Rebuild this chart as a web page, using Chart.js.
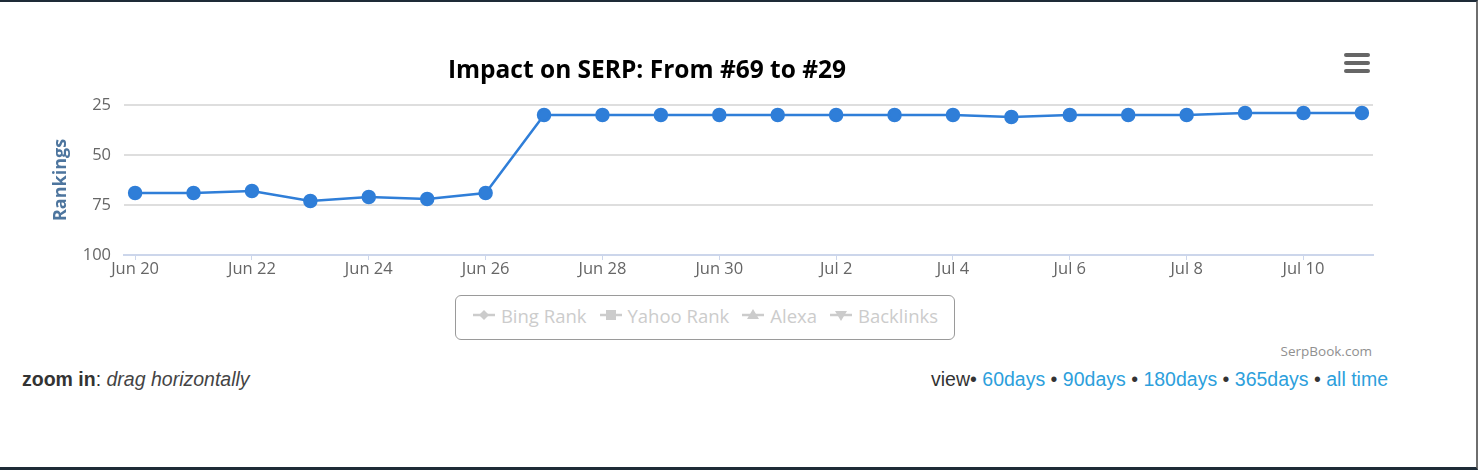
<!DOCTYPE html>
<html>
<head>
<meta charset="utf-8">
<script src="https://cdn.jsdelivr.net/npm/chart.js@4"></script>
<style>
  html, body { margin: 0; padding: 0; background: #fff; }
  #page { position: relative; width: 1478px; height: 470px; box-sizing: border-box;
          border-top: 2px solid #1e2b37; border-right: 2px solid #6e6e6e; border-bottom: 3px solid #1e2b37;
          overflow: hidden; font-family: "Liberation Sans", Arial, sans-serif; }
  #wrap { position: absolute; left: 0; top: -2px; width: 1478px; height: 290px; }
  #title { position: absolute; left: 347px; top: 50px; width: 600px; text-align: center;
           font: bold 24.5px "Open Sans", sans-serif; color: #000; }
  .bar { position: absolute; left: 1344px; width: 26px; height: 4px; border-radius: 2px; background: #666; }
  #legend { position: absolute; left: 455px; top: 293px; width: 500px; height: 45px; box-sizing: border-box;
            border: 1.5px solid #9a9a9a; border-radius: 6px; display: flex; align-items: center;
            justify-content: center; font: 18.5px "Open Sans", sans-serif; color: #cccccc; gap: 12px;
            padding-bottom: 5px; }
  #legend span.item { display: flex; align-items: center; }
  #credit { position: absolute; right: 104px; top: 340px; font: 13.5px "Open Sans", sans-serif; color: #909090; }
  #zoom { position: absolute; left: 22px; top: 366px; font-size: 19.5px; color: #333; }
  #zoom i { color: #444; }
  #view { position: absolute; right: 88px; top: 366px; font-size: 19.5px; color: #333; }
  #view a { color: #2d9fdc; text-decoration: none; }
</style>
</head>
<body>
<div id="page">
  <div id="wrap"><canvas id="chart"></canvas></div>
  <div id="title"></div>
  <div class="bar" style="top:51px"></div>
  <div class="bar" style="top:59px"></div>
  <div class="bar" style="top:67px"></div>
  <div id="legend"></div>
  <div id="credit">SerpBook.com</div>
  <div id="zoom"><b>zoom in</b>: <i>drag horizontally</i></div>
  <div id="view"></div>
</div>
<script>
const titleText = 'Impact on SERP: From #69 to #29';
const days = ['Jun 20','Jun 21','Jun 22','Jun 23','Jun 24','Jun 25','Jun 26','Jun 27','Jun 28','Jun 29','Jun 30',
              'Jul 1','Jul 2','Jul 3','Jul 4','Jul 5','Jul 6','Jul 7','Jul 8','Jul 9','Jul 10','Jul 11'];
const ranks = [69, 69, 68, 73, 71, 72, 69, 30, 30, 30, 30, 30, 30, 30, 30, 31, 30, 30, 30, 29, 29, 29];
const rankTicks = [25, 50, 75, 100];
const hiddenSeries = ['Bing Rank', 'Yahoo Rank', 'Alexa', 'Backlinks'];
const hiddenMarkers = ['diamond', 'square', 'triangle', 'triangleDown'];
const viewLinks = ['60days', '90days', '180days', '365days', 'all time'];

document.getElementById('title').textContent = titleText;

// legend (all extra series are switched off, so drawn grey)
const legend = document.getElementById('legend');
hiddenSeries.forEach((name, i) => {
  const item = document.createElement('span');
  item.className = 'item';
  const c = document.createElement('canvas');
  c.width = 24; c.height = 16;
  const g = c.getContext('2d');
  g.strokeStyle = '#cccccc'; g.fillStyle = '#cccccc'; g.lineWidth = 2.5;
  g.beginPath(); g.moveTo(1, 8); g.lineTo(23, 8); g.stroke();
  g.beginPath();
  const m = hiddenMarkers[i];
  if (m === 'diamond') { g.moveTo(12, 3); g.lineTo(17, 8); g.lineTo(12, 13); g.lineTo(7, 8); }
  else if (m === 'square') { g.rect(7, 3, 10, 10); }
  else if (m === 'triangle') { g.moveTo(12, 2); g.lineTo(18, 12); g.lineTo(6, 12); }
  else { g.moveTo(6, 4); g.lineTo(18, 4); g.lineTo(12, 14); }
  g.fill();
  item.appendChild(c);
  const t = document.createElement('span');
  t.textContent = name;
  t.style.marginLeft = '5px';
  item.appendChild(t);
  legend.appendChild(item);
});

const view = document.getElementById('view');
view.appendChild(document.createTextNode('view\u2022 '));
viewLinks.forEach((v, i) => {
  const a = document.createElement('a');
  a.textContent = v; a.href = '#';
  view.appendChild(a);
  if (i < viewLinks.length - 1) view.appendChild(document.createTextNode(' \u2022 '));
});

const ctx = document.getElementById('chart');
new Chart(ctx, {
  type: 'line',
  data: {
    datasets: [{
      label: 'Rank',
      data: ranks.map((r, i) => ({ x: i, y: r })),
      borderColor: '#2f7ed8',
      backgroundColor: '#2f7ed8',
      borderWidth: 2.5,
      pointRadius: 6,
      pointHoverRadius: 7,
      tension: 0
    }]
  },
  options: {
    responsive: true,
    maintainAspectRatio: false,
    animation: false,
    layout: { padding: { top: 105, right: 105, left: 0, bottom: 0 } },
    plugins: { legend: { display: false }, title: { display: false }, tooltip: { enabled: false } },
    scales: {
      x: {
        type: 'linear',
        min: -0.19,
        max: 21.19,
        afterBuildTicks: s => { s.ticks = days.map((d, i) => ({ value: i })).filter(t => t.value % 2 === 0); },
        afterFit: s => { s.height = 35; },
        ticks: {
          callback: v => days[v],
          color: '#666666',
          font: { family: 'Open Sans', size: 16.5 },
          padding: -1,
          maxRotation: 0,
          autoSkip: false
        },
        grid: { drawOnChartArea: false, drawTicks: true, tickLength: 5, color: '#ccd6eb', lineWidth: 1 },
        border: { color: '#ccd6eb', width: 2 }
      },
      y: {
        reverse: true,
        min: 25,
        max: 100,
        afterBuildTicks: s => { s.ticks = rankTicks.map(v => ({ value: v })); },
        afterFit: s => { s.width = 124; },
        ticks: {
          color: '#666666',
          font: { family: 'Open Sans', size: 16.5 },
          padding: 13
        },
        grid: {
          color: c => (c.tick && c.tick.value === 100) ? 'rgba(0,0,0,0)' : '#dedede',
          lineWidth: 2,
          drawTicks: false
        },
        border: { display: false },
        title: {
          display: true,
          text: 'Rankings',
          color: '#4d759e',
          font: { family: 'Open Sans', size: 18, weight: 'bold' },
          padding: { top: 50, bottom: 0 }
        }
      }
    }
  }
});
</script>
</body>
</html>
